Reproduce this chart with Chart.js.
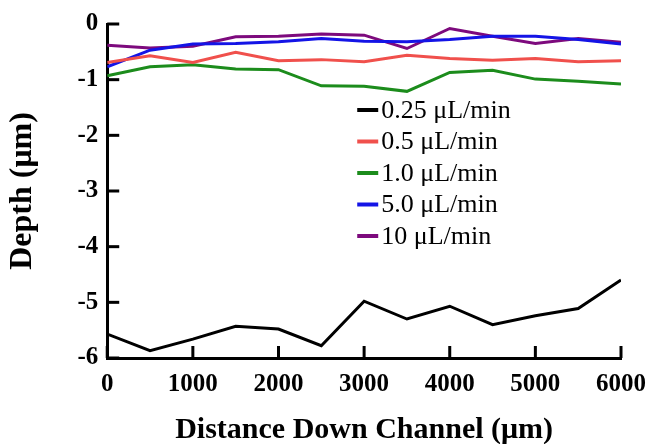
<!DOCTYPE html>
<html>
<head>
<meta charset="utf-8">
<script src="https://cdn.jsdelivr.net/npm/chart.js@4.4.1/dist/chart.umd.min.js"></script>
<style>
  html, body { margin: 0; padding: 0; background: #fff; }
  #wrap { width: 649px; height: 444px; }
</style>
</head>
<body>
<div id="wrap"><canvas id="chartDepth" width="649" height="444"></canvas></div>
<script>
const distance = [0, 500, 1000, 1500, 2000, 2500, 3000, 3500, 4000, 4500, 5000, 5500, 6000];

const rate025 = [-5.57, -5.87, -5.66, -5.43, -5.48, -5.78, -4.98, -5.30, -5.07, -5.40, -5.24, -5.11, -4.60];
const rate05  = [-0.69, -0.57, -0.69, -0.51, -0.66, -0.64, -0.68, -0.56, -0.62, -0.65, -0.62, -0.68, -0.66];
const rate10  = [-0.93, -0.77, -0.73, -0.81, -0.82, -1.11, -1.12, -1.21, -0.87, -0.83, -0.99, -1.03, -1.08];
const rate50  = [-0.77, -0.47, -0.36, -0.35, -0.32, -0.26, -0.31, -0.32, -0.28, -0.22, -0.22, -0.28, -0.36];
const rate100 = [-0.38, -0.43, -0.40, -0.23, -0.22, -0.18, -0.20, -0.44, -0.08, -0.22, -0.35, -0.26, -0.33];

const seriesLabels = ["0.25 μL/min", "0.5 μL/min", "1.0 μL/min", "5.0 μL/min", "10 μL/min"];
const seriesColors = ["#000000", "#f0504c", "#1c8c1c", "#1414e6", "#7d0a7d"];
const seriesData = [rate025, rate05, rate10, rate50, rate100];

const serif = "'Liberation Serif', 'Times New Roman', serif";

function toPoints(vals) {
  return vals.map(function (v, i) { return { x: distance[i], y: v }; });
}

// inward tick marks + legend inside the plot
const extras = {
  id: "extras",
  afterDraw(chart) {
    const ctx = chart.ctx;
    const area = chart.chartArea;
    const xs = chart.scales.x;
    const ys = chart.scales.y;
    ctx.save();
    ctx.strokeStyle = "#000";
    ctx.lineWidth = 3;
    xs.ticks.forEach(function (t) {
      const px = xs.getPixelForValue(t.value);
      ctx.beginPath();
      ctx.moveTo(px, area.bottom);
      ctx.lineTo(px, area.bottom - 12);
      ctx.stroke();
    });
    ys.ticks.forEach(function (t) {
      const py = ys.getPixelForValue(t.value);
      ctx.beginPath();
      ctx.moveTo(area.left, py);
      ctx.lineTo(area.left + 12, py);
      ctx.stroke();
    });

    const lx = area.left + 250;
    let ly = area.top + 86;
    ctx.font = "26px " + serif;
    ctx.textBaseline = "middle";
    ctx.fillStyle = "#000";
    chart.data.datasets.forEach(function (ds) {
      ctx.strokeStyle = ds.borderColor;
      ctx.lineWidth = 4;
      ctx.beginPath();
      ctx.moveTo(lx, ly);
      ctx.lineTo(lx + 21, ly);
      ctx.stroke();
      ctx.fillText(ds.label, lx + 24, ly + 1);
      ly += 31.5;
    });
    ctx.restore();
  }
};

new Chart(document.getElementById("chartDepth"), {
  type: "line",
  data: {
    datasets: seriesData.map(function (vals, i) {
      return {
        label: seriesLabels[i],
        data: toPoints(vals),
        borderColor: seriesColors[i],
        backgroundColor: seriesColors[i],
        borderWidth: 3,
        pointRadius: 0,
        tension: 0,
        fill: false
      };
    })
  },
  options: {
    responsive: false,
    animation: false,
    layout: { padding: { left: 4, right: 0, top: 14, bottom: -4 } },
    plugins: {
      legend: { display: false },
      tooltip: { enabled: false }
    },
    scales: {
      x: {
        type: "linear",
        min: 0,
        max: 6000,
        afterFit: function (scale) { scale.paddingRight = 28; },
        grid: { display: false, drawTicks: false },
        border: { display: true, color: "#000", width: 3 },
        ticks: {
          stepSize: 1000,
          color: "#000",
          padding: 12,
          maxRotation: 0,
          font: { family: serif, size: 25, weight: "bold" },
          callback: function (v) { return String(v); }
        },
        title: {
          display: true,
          text: "Distance Down Channel (μm)",
          color: "#000",
          padding: { top: 0, bottom: 0 },
          font: { family: serif, size: 30, weight: "bold" }
        }
      },
      y: {
        min: -6,
        max: 0,
        grid: { display: false, drawTicks: false },
        border: { display: true, color: "#000", width: 3 },
        ticks: {
          stepSize: 1,
          color: "#000",
          padding: 9,
          font: { family: serif, size: 25, weight: "bold" },
          callback: function (v) { return String(v); }
        },
        title: {
          display: true,
          text: "Depth (μm)",
          color: "#000",
          padding: { top: 0, bottom: 26 },
          font: { family: serif, size: 32, weight: "bold" }
        }
      }
    }
  },
  plugins: [extras]
});
</script>
</body>
</html>
